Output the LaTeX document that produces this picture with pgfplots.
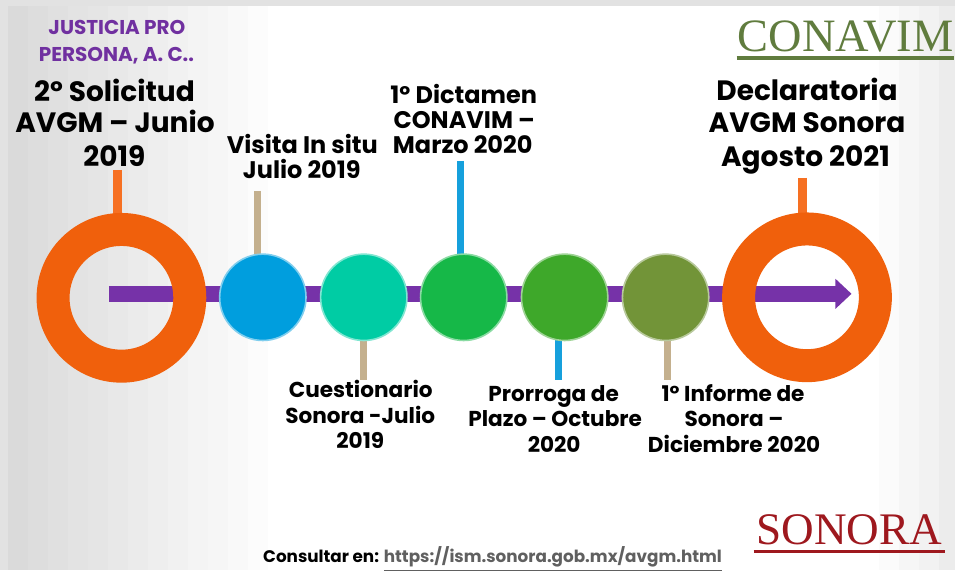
\documentclass[border=0pt]{standalone}
\usepackage{pgfplots}
\pgfplotsset{compat=1.18}
\usepackage{fontspec}
\setmainfont{Poppins}
\newfontfamily\logofont{Liberation Serif}

\definecolor{frame_gray}{RGB}{226,226,226}
\definecolor{slide_left}{RGB}{218,218,218}
\definecolor{slide_right}{RGB}{236,236,236}
\definecolor{arrow_purple}{RGB}{118,50,168}
\definecolor{ring_orange}{RGB}{240,96,12}
\definecolor{stem_orange}{RGB}{246,112,34}
\definecolor{stem_tan}{RGB}{196,176,142}
\definecolor{stem_blue}{RGB}{22,160,220}
\definecolor{ball_blue}{RGB}{0,158,222}
\definecolor{ball_teal}{RGB}{0,204,164}
\definecolor{ball_green}{RGB}{22,184,72}
\definecolor{ball_green2}{RGB}{62,168,42}
\definecolor{ball_olive}{RGB}{114,148,56}
\definecolor{title_purple}{RGB}{112,48,160}
\definecolor{conavim_green}{RGB}{96,124,62}
\definecolor{sonora_red}{RGB}{158,24,30}
\definecolor{url_gray}{RGB}{96,96,96}

% one centred line of text, baseline at (x,y) in pixel units
\newcommand{\lbl}[4]{\node[anchor=base, inner sep=0pt, font=#3] at (axis cs:#1,#2) {#4};}
% vertical background band from x=#1 to x=#2
\newcommand{\band}[3]{\addplot[draw=none, fill=#3] coordinates {(#1,6) (#2,6) (#2,570) (#1,570)} -- cycle;}
\newcommand{\fbig}{\fontsize{14}{16}\selectfont\bfseries}
\newcommand{\fmid}{\fontsize{12}{13}\selectfont\bfseries}
\newcommand{\flow}{\fontsize{10.8}{12}\selectfont\bfseries}

\begin{document}
\begin{tikzpicture}
\begin{axis}[
    width=478pt, height=285pt, scale only axis,
    xmin=0, xmax=956, ymin=0, ymax=570, y dir=reverse,
    hide axis, clip=false,
]
% slide background: white with grey fades at the sides
\addplot[draw=none, fill=frame_gray] coordinates {(0,0) (956,0) (956,570) (0,570)} -- cycle;
\band{8}{956}{white}
\band{8}{29}{slide_left}
\band{28}{49}{slide_left!92!white}
\band{48}{69}{slide_left!85!white}
\band{68}{89}{slide_left!77!white}
\band{88}{109}{slide_left!69!white}
\band{108}{129}{slide_left!62!white}
\band{128}{149}{slide_left!54!white}
\band{148}{169}{slide_left!46!white}
\band{168}{189}{slide_left!38!white}
\band{188}{209}{slide_left!31!white}
\band{208}{229}{slide_left!23!white}
\band{228}{249}{slide_left!15!white}
\band{248}{268}{slide_left!8!white}
\band{880}{901}{slide_right!20!white}
\band{900}{921}{slide_right!45!white}
\band{920}{941}{slide_right!70!white}
\band{940}{956}{slide_right}

% timeline arrow
\addplot[draw=arrow_purple, line width=8pt] coordinates {(109,294) (838,294)};
\addplot[draw=none, fill=arrow_purple] coordinates {(836,279) (852,294) (836,309)} -- cycle;

% start and end rings
\addplot[only marks, mark=o, mark size=34.2pt,
    mark options={draw=ring_orange, line width=16.5pt}]
    coordinates {(121.5,298) (807.5,297.5)};

% milestone balls
\addplot[only marks, mark=*, mark size=21.6pt,
    mark options={fill=ball_blue, draw=ball_blue!50!white, line width=0.8pt}]
    coordinates {(263,297.5)};
\addplot[only marks, mark=*, mark size=21.6pt,
    mark options={fill=ball_teal, draw=ball_teal!50!white, line width=0.8pt}]
    coordinates {(364,297.5)};
\addplot[only marks, mark=*, mark size=21.6pt,
    mark options={fill=ball_green, draw=ball_green!50!white, line width=0.8pt}]
    coordinates {(464,297.5)};
\addplot[only marks, mark=*, mark size=21.6pt,
    mark options={fill=ball_green2, draw=ball_green2!50!white, line width=0.8pt}]
    coordinates {(565,297.5)};
\addplot[only marks, mark=*, mark size=21.6pt,
    mark options={fill=ball_olive, draw=ball_olive!50!white, line width=0.8pt}]
    coordinates {(666,297.5)};

% stems
\addplot[draw=stem_orange, line width=4.5pt] coordinates {(118,170) (118,232)};
\addplot[draw=stem_tan, line width=3.5pt] coordinates {(258,191) (258,290)};
\addplot[draw=stem_tan, line width=3.5pt] coordinates {(364,315) (364,380)};
\addplot[draw=stem_blue, line width=3.5pt] coordinates {(461,161) (461,287)};
\addplot[draw=stem_blue, line width=3.5pt] coordinates {(559,333) (559,380)};
\addplot[draw=stem_tan, line width=3.5pt] coordinates {(668,327) (668,380)};
\addplot[draw=stem_orange, line width=4.5pt] coordinates {(803,178) (803,239)};

% logo underlines
\addplot[draw=conavim_green, line width=1.6pt] coordinates {(737,58) (955,58)};
\addplot[draw=sonora_red, line width=1.6pt] coordinates {(754,552) (946,552)};

% texts
\lbl{117}{35}{\fontsize{10}{11}\selectfont\bfseries\color{title_purple}}{JUSTICIA PRO}
\lbl{116.5}{62}{\fontsize{10}{11}\selectfont\bfseries\color{title_purple}}{PERSONA, A. C..}

\lbl{114.5}{102}{\fbig}{2º Solicitud}
\lbl{115}{133}{\fbig}{AVGM – Junio}
\lbl{114.5}{167}{\fbig}{2019}

\lbl{302.5}{154}{\fmid}{Visita In situ}
\lbl{302}{179}{\fmid}{Julio 2019}

\lbl{464}{104}{\fmid}{1º Dictamen}
\lbl{464.5}{129}{\fmid}{CONAVIM –}
\lbl{463}{154}{\fmid}{Marzo 2020}

\lbl{807.5}{101}{\fbig}{Declaratoria}
\lbl{807.5}{133}{\fbig}{AVGM Sonora}
\lbl{806}{167}{\fbig}{Agosto 2021}

\lbl{361}{398}{\flow}{Cuestionario}
\lbl{360.5}{424}{\flow}{Sonora -Julio}
\lbl{360.5}{449}{\flow}{2019}

\lbl{554}{402}{\flow}{Prorroga de}
\lbl{555.5}{427}{\flow}{Plazo – Octubre}
\lbl{554.5}{453}{\flow}{2020}

\lbl{733.5}{402}{\flow}{1º Informe de}
\lbl{734.5}{427}{\flow}{Sonora –}
\lbl{734.5}{453}{\flow}{Diciembre 2020}

\lbl{846}{52}{\logofont\fontsize{23.2}{24}\selectfont\color{conavim_green}}{CONAVIM}
\lbl{850}{545}{\logofont\fontsize{22.6}{24}\selectfont\color{sonora_red}}{SONORA}

\node[anchor=base west, inner sep=0pt, font=\fontsize{8.4}{10}\selectfont\bfseries]
    at (axis cs:263,563) {Consultar en: \textcolor{url_gray}{\underline{https://ism.sonora.gob.mx/avgm.html}}};
\end{axis}
\end{tikzpicture}
\end{document}
